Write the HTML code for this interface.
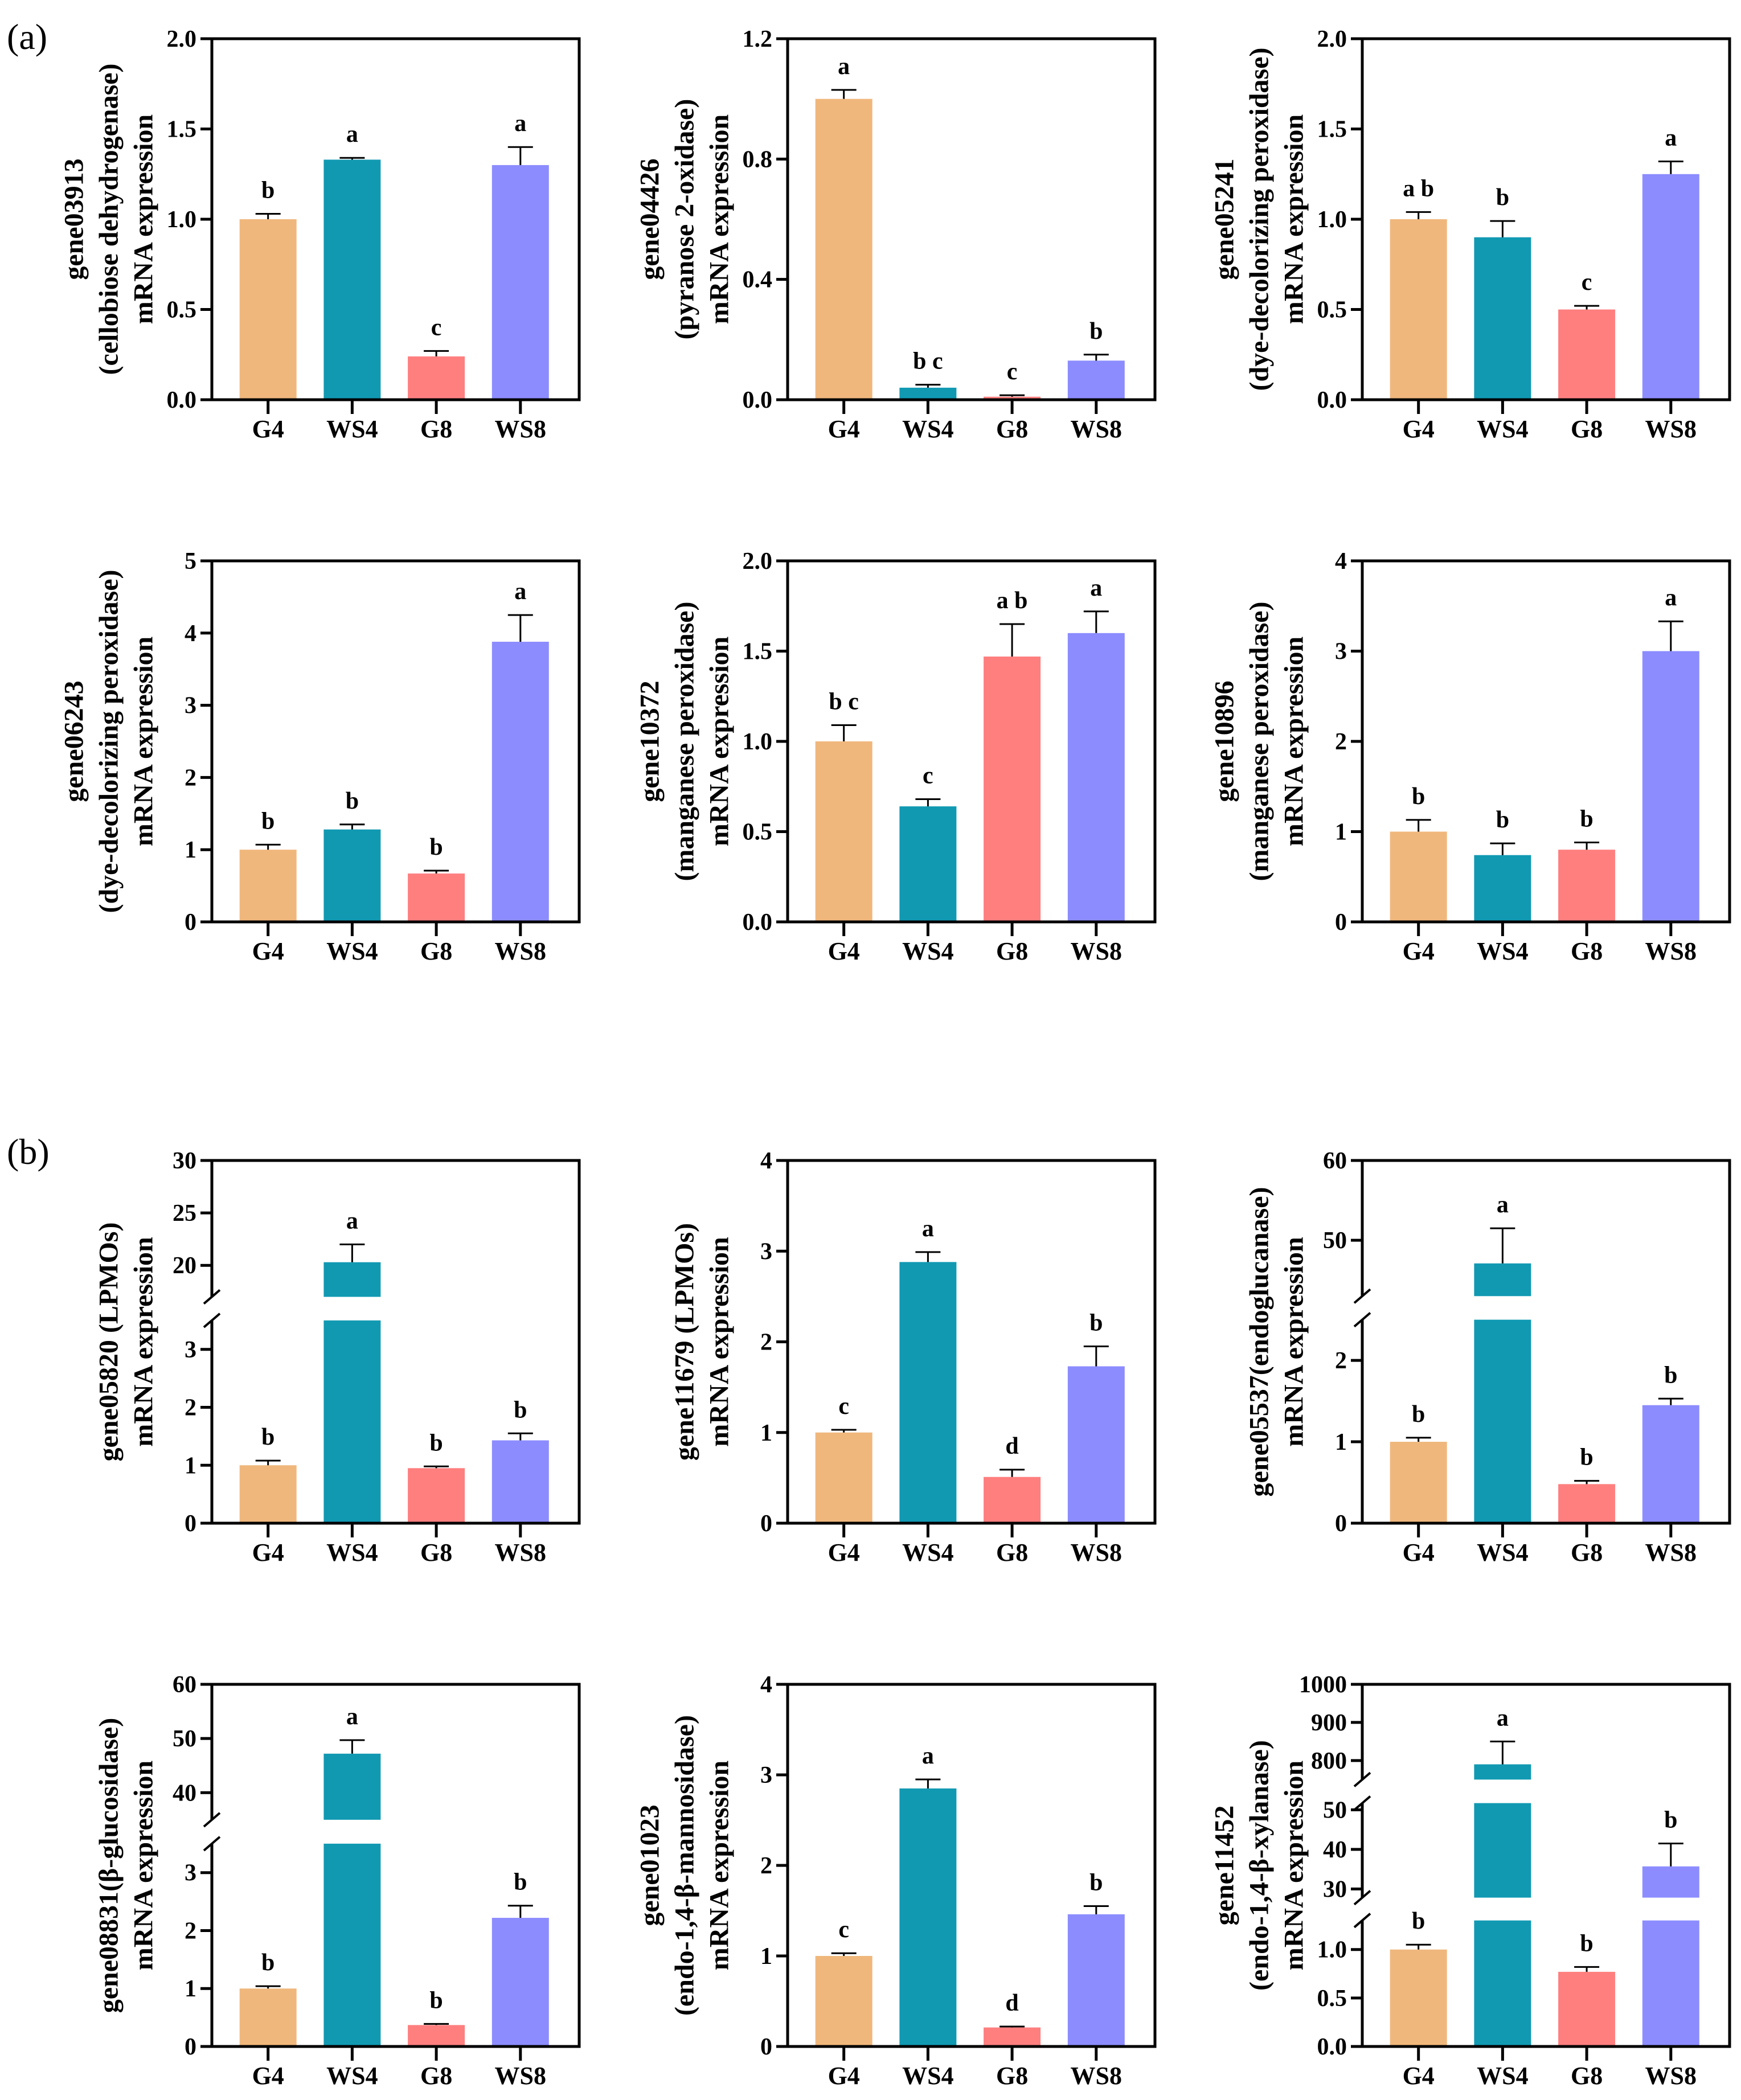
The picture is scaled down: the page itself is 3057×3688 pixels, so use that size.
<!DOCTYPE html>
<html><head><meta charset="utf-8"><style>
html,body{margin:0;padding:0;background:#fff;}
svg{display:block;font-family:"Liberation Serif","DejaVu Serif",serif;}
</style></head><body>
<svg id="fig" width="3057" height="3688" viewBox="0 0 3057 3688" xmlns="http://www.w3.org/2000/svg">
<rect x="0" y="0" width="3057" height="3688" fill="#fff"/>
<text x="12" y="86" font-size="64">(a)</text>
<text x="12" y="2044" font-size="64">(b)</text>
</svg>
<script>
const categories = ["G4","WS4","G8","WS8"];
const colors = ["#F0B77C","#1199B2","#FF7F7F","#8C8CFF"];

const a1Values=[1.0,1.33,0.24,1.30]; const a1Err=[1.03,1.34,0.27,1.40]; const a1Letters=["b","a","c","a"];
const a2Values=[1.0,0.04,0.01,0.13]; const a2Err=[1.03,0.05,0.015,0.15]; const a2Letters=["a","b c","c","b"];
const a3Values=[1.0,0.90,0.50,1.25]; const a3Err=[1.04,0.99,0.52,1.32]; const a3Letters=["a b","b","c","a"];
const a4Values=[1.0,1.28,0.67,3.88]; const a4Err=[1.07,1.35,0.71,4.25]; const a4Letters=["b","b","b","a"];
const a5Values=[1.0,0.64,1.47,1.60]; const a5Err=[1.09,0.68,1.65,1.72]; const a5Letters=["b c","c","a b","a"];
const a6Values=[1.0,0.74,0.80,3.0]; const a6Err=[1.13,0.87,0.88,3.33]; const a6Letters=["b","b","b","a"];
const b1Values=[1.0,20.3,0.95,1.43]; const b1Err=[1.08,22.0,0.98,1.55]; const b1Letters=["b","a","b","b"];
const b2Values=[1.0,2.88,0.51,1.73]; const b2Err=[1.03,2.99,0.59,1.95]; const b2Letters=["c","a","d","b"];
const b3Values=[1.0,47.1,0.48,1.45]; const b3Err=[1.05,51.5,0.52,1.53]; const b3Letters=["b","a","b","b"];
const b4Values=[1.0,47.2,0.37,2.22]; const b4Err=[1.04,49.7,0.39,2.43]; const b4Letters=["b","a","b","b"];
const b5Values=[1.0,2.85,0.21,1.46]; const b5Err=[1.03,2.95,0.22,1.55]; const b5Letters=["c","a","d","b"];
const b6Values=[1.0,790,0.77,35.7]; const b6Err=[1.05,850,0.82,41.5]; const b6Letters=["b","a","b","b"];

const tA1=["0.0","0.5","1.0","1.5","2.0"], tA2=["0.0","0.4","0.8","1.2"], tA4=["0","1","2","3","4","5"], tA6=["0","1","2","3","4"];
const tB1lo=["0","1","2","3"], tB1hi=["20","25","30"];
const tB3lo=["0","1","2"], tB3hi=["50","60"];
const tB4lo=["0","1","2","3"], tB4hi=["40","50","60"];
const tB6lo=["0.0","0.5","1.0"], tB6mid=["30","40","50"], tB6hi=["800","900","1000"];

const NS="http://www.w3.org/2000/svg";
const svg=document.getElementById('fig');
function el(tag,attrs,parent){const e=document.createElementNS(NS,tag);for(const k in attrs)e.setAttribute(k,attrs[k]);(parent||svg).appendChild(e);return e;}

function chart(id,L,T,W,H,title,values,errs,letters,segs){
  const g=el('g',{});
  
  
  const B=T+H;
  function segY(s,v){return B-H*(s.f0+(v-s.lo)/(s.hi-s.lo)*(s.f1-s.f0));}
  function yOf(v){for(const s of segs){if(v>=s.lo&&v<=s.hi)return segY(s,v);}const s=segs[segs.length-1];return segY(s,Math.min(v,s.hi));}
  const xc=i=>L+W*(0.153+0.229*i), bw=W*0.155;
  values.forEach((v,i)=>{
    segs.forEach(s=>{
      if(v<=s.lo)return;
      const top=segY(s,Math.min(v,s.hi)), bot=segY(s,s.lo);
      const r=el('rect',{x:xc(i)-bw/2,y:top,width:bw,height:bot-top,fill:colors[i]},g);
      
      
    });
    const yt=yOf(v), ye=yOf(errs[i]);
    const eb=el('path',{d:`M${xc(i)} ${yt}V${ye}M${xc(i)-22} ${ye}H${xc(i)+22}`,stroke:'#000','stroke-width':3,fill:'none'},g);
    
    
    const lt=el('text',{x:xc(i),y:ye-28,'font-size':42,'font-weight':'bold','text-anchor':'middle'},g);
    lt.textContent=letters[i];
    
    
  });
  const fr=el('path',{d:`M${L-2} ${T}H${L+W}V${B}H${L-2}`,stroke:'#000','stroke-width':5,fill:'none'},g);
  
  
  segs.forEach((s,k)=>{
    const y0=segY(s,s.lo), y1=segY(s,s.hi);
    const ax=el('line',{x1:L,y1:(k==0?B+2:y0),x2:L,y2:(k==segs.length-1?T-2:y1),stroke:'#000','stroke-width':5},g);
    
    
    if(k>0){const m=el('line',{x1:L-14,y1:y0+12,x2:L+14,y2:y0-12,stroke:'#000','stroke-width':4},g);
      }
    if(k<segs.length-1){const m=el('line',{x1:L-14,y1:y1+12,x2:L+14,y2:y1-12,stroke:'#000','stroke-width':4},g);
      }
    s.ticks.forEach(t=>{
      const y=segY(s,parseFloat(t));
      el('line',{x1:L-20,y1:y,x2:L,y2:y,stroke:'#000','stroke-width':5},g);
      const tx=el('text',{x:L-27,y:y+14,'font-size':42,'font-weight':'bold','text-anchor':'end'},g);
      tx.textContent=t;
      
      
    });
  });
  categories.forEach((c,i)=>{
    el('line',{x1:xc(i),y1:B,x2:xc(i),y2:B+25,stroke:'#000','stroke-width':5},g);
    const tx=el('text',{x:xc(i),y:B+66,'font-size':44,'font-weight':'bold','text-anchor':'middle'},g);
    tx.textContent=c;
    
    
  });
  const cy=T+H/2;
  title.forEach((line,j)=>{
    const x=L-120-61*(title.length-1-j);
    const tx=el('text',{x:x,y:cy,'font-size':48,'font-weight':'bold','text-anchor':'middle',transform:`rotate(-90 ${x} ${cy})`,'dominant-baseline':'central'},g);
    tx.textContent=line;
    
    
  });
}
const one=(lo,hi,t)=>[{lo:lo,hi:hi,f0:0,f1:1,ticks:t}];
const cols=[372,1383,2392], W=645, H=634;
const rows=[68,985,2038,2958];
chart('gene03913',cols[0],rows[0],W,H,["gene03913","(cellobiose dehydrogenase)","mRNA expression"],a1Values,a1Err,a1Letters,one(0,2,tA1));
chart('gene04426',cols[1],rows[0],W,H,["gene04426","(pyranose 2-oxidase)","mRNA expression"],a2Values,a2Err,a2Letters,one(0,1.2,tA2));
chart('gene05241',cols[2],rows[0],W,H,["gene05241","(dye-decolorizing peroxidase)","mRNA expression"],a3Values,a3Err,a3Letters,one(0,2,tA1));
chart('gene06243',cols[0],rows[1],W,H,["gene06243","(dye-decolorizing peroxidase)","mRNA expression"],a4Values,a4Err,a4Letters,one(0,5,tA4));
chart('gene10372',cols[1],rows[1],W,H,["gene10372","(manganese peroxidase)","mRNA expression"],a5Values,a5Err,a5Letters,one(0,2,tA1));
chart('gene10896',cols[2],rows[1],W,H,["gene10896","(manganese peroxidase)","mRNA expression"],a6Values,a6Err,a6Letters,one(0,4,tA6));
chart('gene05820',cols[0],rows[2],W,637,["gene05820 (LPMOs)","mRNA expression"],b1Values,b1Err,b1Letters,
  [{lo:0,hi:3.5,f0:0,f1:0.559,ticks:tB1lo},{lo:17,hi:30,f0:0.624,f1:1,ticks:tB1hi}]);
chart('gene11679',cols[1],rows[2],W,637,["gene11679 (LPMOs)","mRNA expression"],b2Values,b2Err,b2Letters,one(0,4,tA6));
chart('gene05537',cols[2],rows[2],W,637,["gene05537(endoglucanase)","mRNA expression"],b3Values,b3Err,b3Letters,
  [{lo:0,hi:2.5,f0:0,f1:0.561,ticks:tB3lo},{lo:43,hi:60,f0:0.626,f1:1,ticks:tB3hi}]);
chart('gene08831',cols[0],rows[3],W,636,["gene08831(β-glucosidase)","mRNA expression"],b4Values,b4Err,b4Letters,
  [{lo:0,hi:3.5,f0:0,f1:0.560,ticks:tB4lo},{lo:35,hi:60,f0:0.626,f1:1,ticks:tB4hi}]);
chart('gene01023',cols[1],rows[3],W,636,["gene01023","(endo-1,4-β-mannosidase)","mRNA expression"],b5Values,b5Err,b5Letters,one(0,4,tA6));
chart('gene11452',cols[2],rows[3],W,636,["gene11452","(endo-1,4-β-xylanase)","mRNA expression"],b6Values,b6Err,b6Letters,
  [{lo:0,hi:1.3,f0:0,f1:0.348,ticks:tB6lo},{lo:27.8,hi:51.7,f0:0.411,f1:0.672,ticks:tB6mid},{lo:750,hi:1000,f0:0.737,f1:1,ticks:tB6hi}]);
</script>
</body></html>
